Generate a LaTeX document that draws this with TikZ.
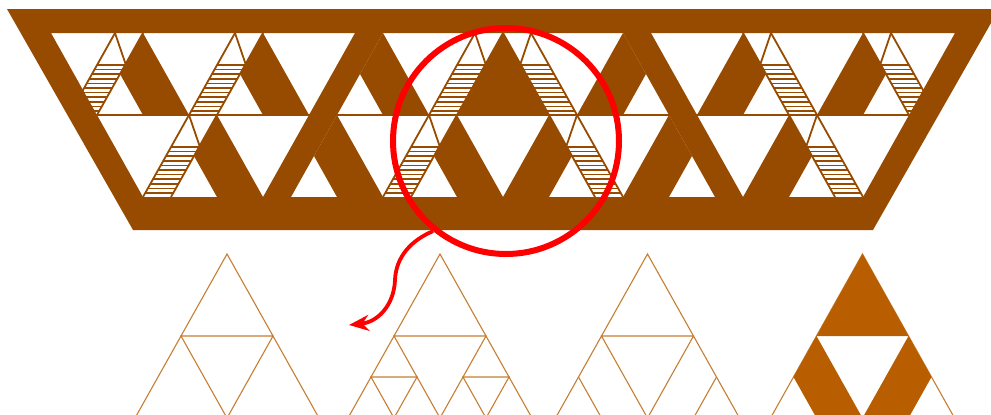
\documentclass[tikz,border=0pt]{standalone}
\usetikzlibrary{arrows.meta}

\definecolor{friezebrown}{RGB}{150,75,0}
\definecolor{sketchbrown}{RGB}{184,94,0}
\definecolor{lensred}{RGB}{255,0,0}

\begin{document}
\begin{tikzpicture}[
    x=0.5pt, y=-0.5pt,
    frieze/.style={fill=friezebrown},
    edge/.style={draw=friezebrown, line width=0.9pt},
    hatch/.style={draw=friezebrown, line width=0.75pt},
    lens/.style={
        circle,
        draw=lensred,
        line width=3pt,
        minimum size=113pt,
        inner sep=0pt
    },
    pointer/.style={draw=lensred, line width=1.9pt, -{Stealth[length=10pt,width=8pt]}},
    sketch/.style={draw=sketchbrown!80, line width=0.55pt},
    sketchfill/.style={fill=sketchbrown}
]

\useasboundingbox (0,0) rectangle (991,414);
\clip (0,0) rectangle (991,414);

% Frieze: left half, then its mirror image
\foreach \side/\shift in {1/0,-1/1006}{
\begin{scope}[xshift=\shift*0.5pt, xscale=\side]
    % upper row
    \foreach \a in {143,263,383}
        \fill[frieze] (\a,33) -- (\a-23,74) -- (\a,115) -- (\a+46,115) -- cycle;
    \fill[frieze] (503,33) -- (457,115) -- (549,115) -- cycle;
    \fill[frieze] (355,33) -- (383,33) -- (337,115) -- (309,115) -- cycle;
    % lower row
    \foreach \a in {217,337,457}
        \fill[frieze] (\a,115) -- (\a-23,156) -- (\a,197) -- (\a+46,197) -- cycle;
    \fill[frieze] (309,115) -- (337,115) -- (291,197) -- (263,197) -- cycle;
    % hatched strips
    \foreach \a/\b in {143/33,263/33,503/33,217/115,457/115}{
        \begin{scope}
            \clip (\a-45.4,\b+31) -- (\a-17.4,\b+31) -- (\a-46,\b+82) -- (\a-74,\b+82) -- cycle;
            \foreach \k in {0,...,10}
                \draw[hatch] (\a-80,\b+32+4.6*\k) -- (\a,\b+32+4.6*\k);
        \end{scope}
        \draw[edge] (\a-28,\b) -- (\a-74,\b+82);
        \draw[edge] (\a,\b) -- (\a-46,\b+82);
        \draw[edge] (\a-28,\b) -- (\a-17.4,\b+31);
    }
\end{scope}
}

\draw[edge] (97,115) -- (909,115);

% Frame
\fill[frieze, even odd rule] (7,9) -- (999,9) -- (873,230) -- (133,230) -- cycle
    (51,33) -- (955,33) -- (863,197) -- (143,197) -- cycle;

% Magnified part
\node[lens] (lens) at (506,141) {};
\coordinate (tip) at (349,325);
\draw[pointer] (lens.231) .. controls (412,240) and (396,256) .. (395,280)
    .. controls (394,305) and (378,322) .. (tip);

% Subdivision steps
\foreach \p in {227,440,647.5}
    \draw[sketch] (\p,254) -- (\p-92,418) -- (\p+92,418) -- cycle
        (\p-46,336) -- (\p+46,336) -- (\p,418) -- cycle;
\draw[sketch] (371,377) -- (417,377) -- (394,418) -- cycle
    (463,377) -- (509,377) -- (486,418) -- cycle;
\draw[sketch] (578.5,377) -- (601.5,418) (716.5,377) -- (693.5,418);

% Filled step
\draw[sketch] (862.5,254) -- (770.5,418) -- (954.5,418) -- cycle;
\fill[sketchfill] (862.5,254) -- (816.5,336) -- (908.5,336) -- cycle;
\fill[sketchfill] (816.5,336) -- (793.5,377) -- (816.5,418) -- (862.5,418) -- cycle;
\fill[sketchfill] (908.5,336) -- (931.5,377) -- (908.5,418) -- (862.5,418) -- cycle;

\end{tikzpicture}
\end{document}
